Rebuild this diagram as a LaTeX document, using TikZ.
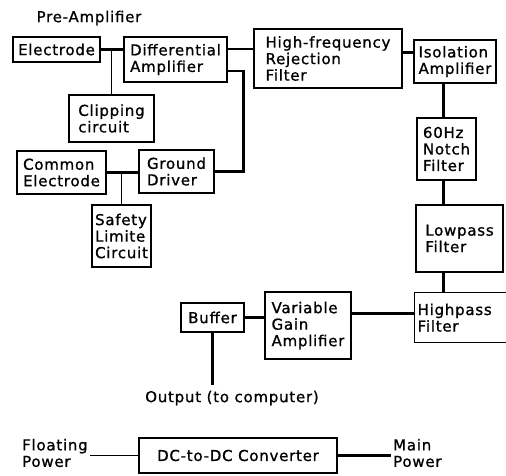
\documentclass[tikz,border=0pt]{standalone}
\usepackage{fontspec}
\setmainfont{DejaVu Sans}[LetterSpace=5, FakeBold=1]
\usetikzlibrary{positioning, calc}
\definecolor{blkline}{HTML}{000000}
\tikzset{
  blk/.style      = {draw=blkline, line width=1.3pt, align=left, inner sep=3pt,
                     font=\fontsize{15}{16.5}\selectfont},
  wire/.style     = {draw=blkline, line width=2.6pt},
  wirethin/.style = {draw=blkline, line width=1.4pt},
  lbl/.style      = {font=\fontsize{15}{16.5}\selectfont, align=left, inner sep=2pt},
}
\begin{document}
\begin{tikzpicture}[x=1pt, y=-1pt]
        \useasboundingbox (0,0) rectangle (506,475);

        % pre-amplifier
        \node[lbl] (pre) at (89,18) {Pre-Amplifier};
        \node[blk, minimum width=87, minimum height=25] (elec) at (56.5,49.5) {Electrode};
        \node[blk, minimum width=103, minimum height=45] (diff) at (175.5,59.5) {Differential\\Amplifier};
        \node[blk, minimum width=85, minimum height=47] (clip) at (111.5,118.5) {Clipping\\circuit};
        \node[blk, minimum width=89, minimum height=43] (comm) at (61.5,172.5) {Common\\Electrode};
        \node[blk, minimum width=75, minimum height=43] (gnd) at (176.5,171.5) {Ground\\Driver};
        \node[blk, minimum width=59, minimum height=62] (safe) at (121.5,236) {Safety\\Limite\\Circuit};

        % filter chain
        \node[blk, minimum width=148, minimum height=59] (hff) at (328,58.5) {High-frequency\\Rejection\\Filter};
        \node[blk, minimum width=82, minimum height=43] (iso) at (455,61.5) {Isolation\\Amplifier};
        \node[blk, minimum width=59, minimum height=62] (notch) at (446.5,149) {60Hz\\Notch\\Filter};
        \node[blk, minimum width=87, minimum height=67] (lowp) at (459.5,238.5) {Lowpass\\Filter};
        \node[blk, anchor=north west, text width=96, minimum height=50] (highp) at (414,292) {Highpass\\Filter};
        \node[blk, minimum width=86, minimum height=67] (vga) at (308,325.5) {Variable\\Gain\\Amplifier};
        \node[blk, minimum width=63, minimum height=29] (buf) at (212.5,317.5) {Buffer};
        \node[lbl, inner sep=6pt] (out) at (232,398) {Output (to computer)};

        % power
        \node[blk, minimum width=198, minimum height=35] (dcdc) at (238,455.5) {DC-to-DC Converter};
        \node[lbl, anchor=west] (float) at (20,453) {Floating\\Power};
        \node[lbl, anchor=west] (mainp) at (391,453) {Main\\Power};

        \draw[wire] (elec.east) -- (diff.west |- elec.east);
        \draw[wirethin] (clip.north) -- (clip.north |- elec.east);
        \draw[wire] ([yshift=10.5]diff.east) -- ([yshift=10.5]diff.east -| hff.west);
        \draw[wire] ([yshift=-11.5]diff.east) -- ++(16,0) |- (gnd.east);
        \draw[wire] (comm.east) -- (gnd.west |- comm.east);
        \draw[wirethin] (safe.north) -- (safe.north |- comm.east);
        \draw[wire] ([yshift=9]iso.west) -- ([yshift=9]iso.west -| hff.east);
        \draw[wire] ([xshift=-3]notch.north) -- ([xshift=-3]notch.north |- iso.south);
        \draw[wire] ([xshift=-3]notch.south) -- ([xshift=-3]notch.south |- lowp.north);
        \draw[wire] ([xshift=-3]notch.south |- lowp.south) -- ([xshift=-3]notch.south |- highp.north);
        \draw[wire] ([yshift=4]highp.west) -- ([yshift=4]highp.west -| vga.east);
        \draw[wire] (buf.east) -- (buf.east -| vga.west);
        \draw[wire] (buf.south) -- (buf.south |- out.north);
        \draw[wirethin] (dcdc.west) -- (dcdc.west -| float.east);
        \draw[wire] (dcdc.east) -- (dcdc.east -| mainp.west);
    \end{tikzpicture}
\end{document}
